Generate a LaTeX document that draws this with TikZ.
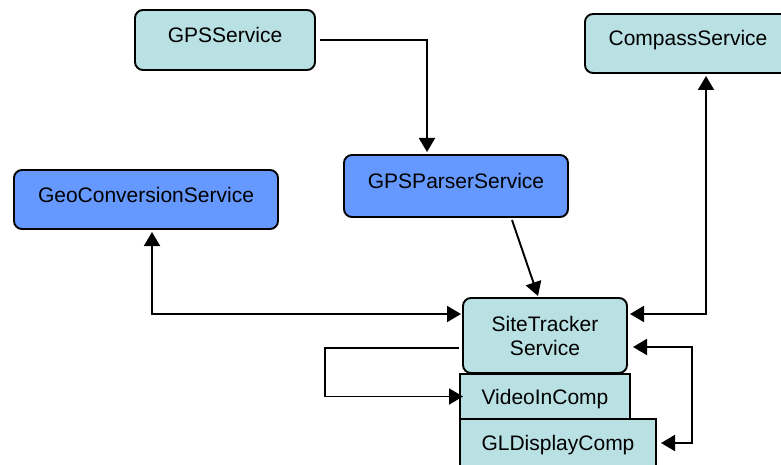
\documentclass[tikz,border=0pt]{standalone}
\usepackage{fontspec}
\setmainfont{Liberation Sans}
\usetikzlibrary{arrows.meta}
\definecolor{svcteal}{HTML}{B9E0E3}
\definecolor{svcblue}{HTML}{6699FF}
\begin{document}
\begin{tikzpicture}[x=1pt,y=-1pt,
  box/.style={draw=black,line width=1.9pt,rounded corners=8pt,font=\fontsize{21}{24}\selectfont,
    inner sep=0pt,outer sep=0pt,align=center},
  raised/.style={text height=15pt,text depth=10pt},
  teal/.style={box,fill=svcteal},
  blue/.style={box,fill=svcblue},
  comp/.style={box,fill=svcteal,rounded corners=0pt,text height=15pt,text depth=0pt},
  link/.style={line width=1.9pt,-{Triangle[length=14pt,width=16pt]}},
  twoway/.style={line width=1.9pt,{Triangle[length=14pt,width=16pt]}-{Triangle[length=14pt,width=16pt]}}]
\useasboundingbox (0,0) rectangle (781,465);

% services
\node[teal,raised,minimum width=180pt,minimum height=60pt] (gps) at (225,40) {GPSService};
\node[teal,raised,minimum width=206pt,minimum height=59pt] (compass) at (688,43.5) {CompassService};
\node[blue,raised,minimum width=264pt,minimum height=59pt] (geo) at (146,199.5) {GeoConversionService};
\node[blue,raised,minimum width=224pt,minimum height=62pt] (parser) at (456,186) {GPSParserService};
\node[teal,minimum width=164pt,minimum height=75pt] (site) at (545,335.5) {SiteTracker\\Service};

% components
\node[comp,minimum width=196pt,minimum height=48pt] (gl) at (558,443) {GLDisplayComp};
\node[comp,minimum width=170pt,minimum height=45pt] (video) at (545,396.5) {VideoInComp};

% connectors
\draw[link] ([xshift=5pt]gps.east) -| ([xshift=83pt,yshift=3pt]parser.north west);
\draw[link] ([xshift=56pt,yshift=-3pt]parser.south) -- ([xshift=-7pt,yshift=2pt]site.north);
\draw[twoway] ([xshift=6pt,yshift=-3pt]geo.south) |- ([xshift=-2pt,yshift=21.5pt]site.west);
\draw[twoway] ([xshift=18pt,yshift=-3pt]compass.south) |- ([xshift=3pt,yshift=21.5pt]site.east);
\draw[link] ([xshift=-4pt,yshift=-12.5pt]site.west) -- ++(-134,0) |- ([xshift=3pt]video.west);
\draw[twoway] ([xshift=6pt,yshift=-11.5pt]site.east) -- ++(59,0) |- ([xshift=5pt]gl.east);
\end{tikzpicture}
\end{document}
